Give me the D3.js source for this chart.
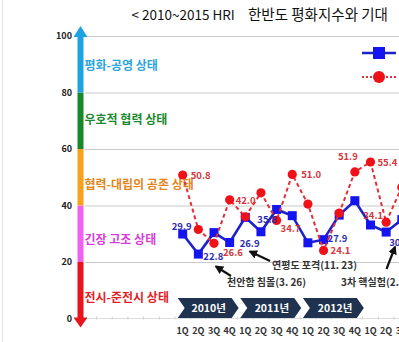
<!DOCTYPE html>
<html>
<head>
<meta charset="utf-8">
<script src="https://cdn.jsdelivr.net/npm/d3@7"></script>
<style>
  html, body { margin: 0; padding: 0; background: #fff; }
  svg { display: block; font-family: "Noto Sans CJK KR", "Noto Sans", sans-serif; }
</style>
</head>
<body>
<svg id="chart" width="399" height="342"></svg>
<script>
// Quarterly HRI Korean-peninsula peace index and expectation index
const quarters = ["1Q","2Q","3Q","4Q","1Q","2Q","3Q","4Q","1Q","2Q","3Q","4Q","1Q","2Q","3Q"];
const years = ["2010년", "2011년", "2012년", "2013년"];
const peaceIndex  = [29.9, 22.8, 30.4, 26.9, 35.8, 30.7, 38.6, 36.4, 26.8, 27.9, 36.6, 41.7, 33.1, 30.6, 35.0];
const expectIndex = [50.8, 31.5, 26.6, 42.0, 36.0, 44.5, 34.7, 51.0, 40.5, 24.1, 37.3, 51.9, 55.4, 34.1, 46.5];
const yTicks = [0, 20, 40, 60, 80, 100];
const stateNames = ["전시-준전시 상태", "긴장 고조 상태", "협력-대립의 공존 상태", "우호적 협력 상태", "평화-공영 상태"];
const events = ["천안함 침몰(3. 26)", "연평도 포격(11. 23)", "3차 핵실험(2. 12)"];

const svg = d3.select("#chart");
const W = 399;

const x = d3.scalePoint().domain(d3.range(quarters.length)).range([182.7, 401.8]);
const step = x.step();
const y = d3.scaleLinear().domain([0, 100]).range([318.5, 36]);

// state band colours, bottom to top
const bandColor = ["#e8141e", "#f062ee", "#f7a11f", "#17892a", "#1ea3e2"];
const bandText  = ["#e21f26", "#d63fd6", "#e3861c", "#1a8a2c", "#2aa5dd"];
// level (in index units) where each state name sits
const stateLabelLevel = [7.6, 28.1, 47.3, 70.3, 89.7];

// frame line at the very left
svg.append("line").attr("x1", 2.5).attr("x2", 2.5).attr("y1", 0).attr("y2", 342)
  .attr("stroke", "#e2e2e2").attr("stroke-width", 1);

// title
const title = svg.append("text").attr("y", 20).attr("fill", "#111");
title.append("tspan").attr("x", 131.5).attr("font-size", 13.5).text("< 2010~2015 HRI");
title.append("tspan").attr("x", 248).attr("font-size", 14.5).text("한반도 평화지수와 기대");

// gridlines
svg.append("g").selectAll("line").data(yTicks.filter(t => t > 0)).join("line")
  .attr("x1", 85).attr("x2", W).attr("y1", d => y(d) + 0.5).attr("y2", d => y(d) + 0.5)
  .attr("stroke", "#c9c9c9").attr("stroke-width", 1);

// baseline with faint category ticks
svg.append("line").attr("x1", 85).attr("x2", W).attr("y1", y(0)).attr("y2", y(0))
  .attr("stroke", "#dcdcdc");
const tickXs = d3.range(-6, quarters.length).map(i => x(0) + (i - 0.5) * step).filter(v => v > 88 && v < W);
svg.append("g").selectAll("line").data(tickXs).join("line")
  .attr("x1", d => d).attr("x2", d => d).attr("y1", y(0) - 2).attr("y2", y(0) + 1)
  .attr("stroke", "#cfcfcf");

// y tick labels
svg.append("g").selectAll("text").data(yTicks).join("text")
  .attr("x", 72).attr("y", d => y(d)).attr("dy", "0.35em")
  .attr("text-anchor", "end").attr("font-size", 9).attr("font-weight", 700)
  .attr("fill", "#222").text(d => d);

// coloured state axis
const bands = d3.range(5).map(i => ({ lo: i * 20, hi: i * 20 + 20, i }));
svg.append("g").selectAll("rect").data(bands).join("rect")
  .attr("x", 77.5).attr("width", 6)
  .attr("y", d => y(d.hi)).attr("height", d => y(d.lo) - y(d.hi))
  .attr("fill", d => bandColor[d.i]);
svg.append("path")
  .attr("d", `M80.5,${y(100) - 10}L73.5,${y(100) + 1}L87.5,${y(100) + 1}Z`)
  .attr("fill", bandColor[4]);
svg.append("path")
  .attr("d", `M80.5,${y(0) + 9}L73.5,${y(0) - 1}L87.5,${y(0) - 1}Z`)
  .attr("fill", bandColor[0]);

// state names inside each band
svg.append("g").selectAll("text").data(bands).join("text")
  .attr("x", 84.5).attr("y", d => y(stateLabelLevel[d.i]) + 4.5)
  .attr("font-size", 12).attr("font-weight", 700)
  .attr("fill", d => bandText[d.i]).text(d => stateNames[d.i]);

// year chevrons
const chevH = 20, chevTop = 298, notch = 7;
const yearG = svg.append("g");
years.forEach((yr, k) => {
  const x0 = x(k * 4) - 5, x1 = x(k * 4 + 3) + 9;
  const pts = [[x0, chevTop], [x1 - notch, chevTop], [x1, chevTop + chevH / 2],
               [x1 - notch, chevTop + chevH], [x0, chevTop + chevH], [x0 + notch, chevTop + chevH / 2]];
  yearG.append("path").attr("d", d3.line()(pts) + "Z").attr("fill", "#1f3350");
  yearG.append("text").attr("x", x0 + 31 + k * 0.6).attr("y", chevTop + chevH / 2 + 4)
    .attr("text-anchor", "middle").attr("font-size", 10.5).attr("font-weight", 700)
    .attr("fill", "#fff").text(yr);
});

// quarter labels
svg.append("g").selectAll("text").data(quarters).join("text")
  .attr("x", (d, i) => x(i)).attr("y", 334)
  .attr("text-anchor", "middle").attr("font-size", 9).attr("font-weight", 700)
  .attr("fill", "#333").text(d => d);

// series lines
const line = d3.line().x((d, i) => x(i)).y(d => y(d));
svg.append("path").datum(peaceIndex).attr("d", line)
  .attr("fill", "none").attr("stroke", "#1e22c8").attr("stroke-width", 2.6);
svg.append("g").selectAll("rect").data(peaceIndex).join("rect")
  .attr("x", (d, i) => x(i) - 4.5).attr("y", d => y(d) - 4.5)
  .attr("width", 9).attr("height", 9).attr("fill", "#1414f0");

svg.append("path").datum(expectIndex).attr("d", line)
  .attr("fill", "none").attr("stroke", "#e0303a").attr("stroke-width", 2)
  .attr("stroke-dasharray", "4,3");
svg.append("g").selectAll("circle").data(expectIndex).join("circle")
  .attr("cx", (d, i) => x(i)).attr("cy", d => y(d)).attr("r", 4.6)
  .attr("fill", "#f01018");

// value labels: index -> [dx, dy, anchor]
const peaceLabelAt = { 0: [-1, -4, "middle"], 1: [5, 6, "start"], 3: [10, 4, "start"],
                       4: [12, 6, "start"], 9: [4, 2, "start"], 13: [3, 14, "start"] };
const expectLabelAt = { 0: [8, 4, "start"], 2: [9, 13, "start"], 3: [6, 4, "start"],
                        6: [4, 12, "start"], 7: [9, 4, "start"], 9: [7, 4, "start"],
                        11: [-7, -12, "middle"], 12: [7, 4, "start"], 13: [-3, -3, "end"] };
const labelG = svg.append("g").attr("font-size", 9.5).attr("font-weight", 700);
Object.entries(peaceLabelAt).forEach(([i, [dx, dy, a]]) => {
  labelG.append("text").attr("x", x(+i) + dx).attr("y", y(peaceIndex[i]) + dy)
    .attr("text-anchor", a).attr("fill", "#2b2bb0").text(peaceIndex[i].toFixed(1));
});
Object.entries(expectLabelAt).forEach(([i, [dx, dy, a]]) => {
  labelG.append("text").attr("x", x(+i) + dx).attr("y", y(expectIndex[i]) + dy)
    .attr("text-anchor", a).attr("fill", "#d2373d").text(expectIndex[i].toFixed(1));
});

// event annotations with arrows
svg.append("defs").append("marker").attr("id", "head")
  .attr("viewBox", "0 0 10 10").attr("refX", 8).attr("refY", 5)
  .attr("markerWidth", 4).attr("markerHeight", 4).attr("orient", "auto")
  .append("path").attr("d", "M0,0L10,5L0,10Z").attr("fill", "#111");
const notes = [
  { text: events[0], tx: 227, ty: 286, from: [231, 276], to: [216, 266.5] },
  { text: events[1], tx: 272, ty: 269, from: [270, 261], to: [250, 251.5] },
  { text: events[2], tx: 341, ty: 286, from: [386.5, 269], to: [395, 247] }
];
notes.forEach(n => {
  svg.append("line").attr("x1", n.from[0]).attr("y1", n.from[1])
    .attr("x2", n.to[0]).attr("y2", n.to[1])
    .attr("stroke", "#111").attr("stroke-width", 2.2).attr("marker-end", "url(#head)");
  svg.append("text").attr("x", n.tx).attr("y", n.ty).attr("font-size", 10)
    .attr("font-weight", 700).attr("fill", "#333").text(n.text);
});

// legend keys (their names sit beyond the right edge)
const legend = svg.append("g");
legend.append("line").attr("x1", 362).attr("x2", 396).attr("y1", 53).attr("y2", 53)
  .attr("stroke", "#1e22c8").attr("stroke-width", 2.6);
legend.append("rect").attr("x", 373).attr("y", 47).attr("width", 12).attr("height", 12).attr("fill", "#1414f0");
legend.append("line").attr("x1", 362).attr("x2", 396).attr("y1", 77).attr("y2", 77)
  .attr("stroke", "#e0303a").attr("stroke-width", 2).attr("stroke-dasharray", "2,2");
legend.append("circle").attr("cx", 379).attr("cy", 77).attr("r", 6).attr("fill", "#f01018");
</script>
</body>
</html>
